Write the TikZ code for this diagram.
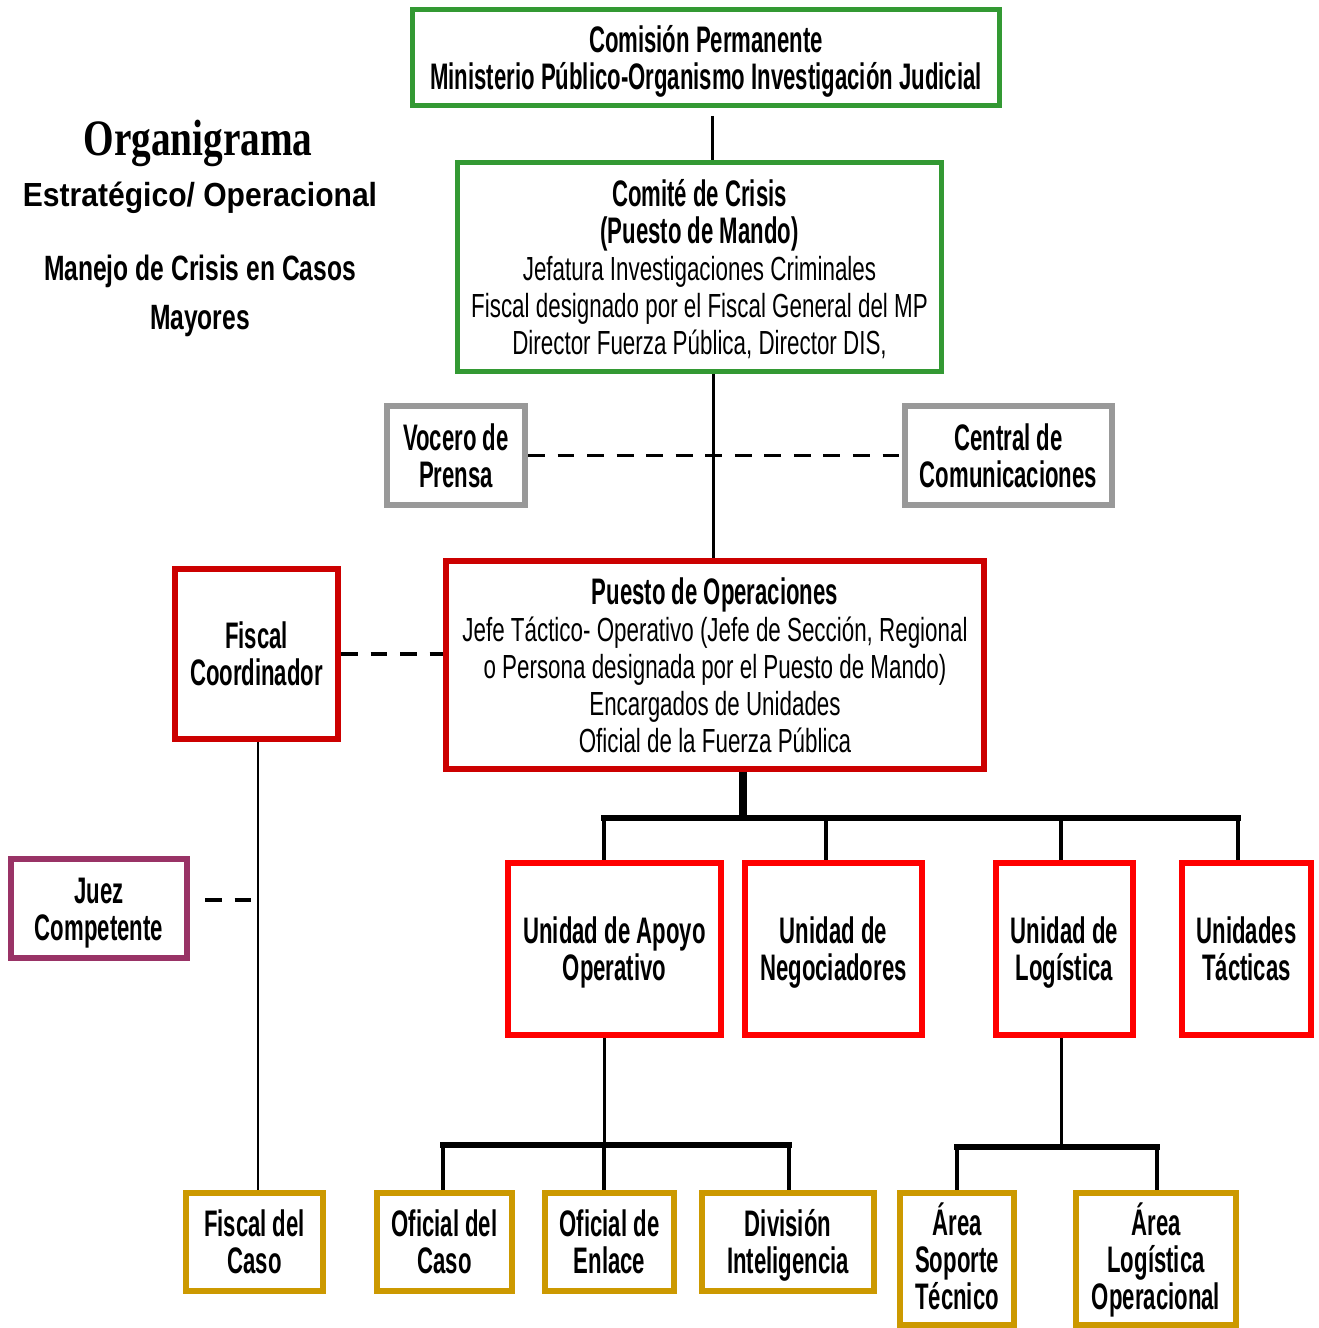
\documentclass[tikz,border=0pt]{standalone}
\usepackage{fontspec}
\setmainfont{Liberation Sans}
\newfontfamily\bfn{Liberation Sans}[FakeStretch=0.6]
\newfontfamily\rgn{Liberation Sans}[FakeStretch=0.67]
\newfontfamily\ttla{Liberation Sans}[FakeStretch=0.9]
\newfontfamily\ttlb{Liberation Sans}[FakeStretch=0.7]
\newfontfamily\ttlserif{Liberation Serif}[FakeStretch=0.77]
\definecolor{cgreen}{HTML}{339933}
\definecolor{cgray}{HTML}{999999}
\definecolor{cdred}{HTML}{CC0000}
\definecolor{cred}{HTML}{FF0000}
\definecolor{cpurp}{HTML}{993366}
\definecolor{cgold}{HTML}{CC9900}
\newcommand{\B}{\bfn\bfseries\fontsize{10.5}{10.5}\selectfont}
\newcommand{\R}{\rgn\mdseries\fontsize{9.5}{10.5}\selectfont}
\newcommand{\Tp}{\rule{0pt}{10pt}}
\newcommand{\Dp}{\rule[-2.5pt]{0pt}{2.5pt}}
\tikzset{
  box/.style={draw, rectangle, inner sep=0pt, align=center, fill=white, font=\B},
  gbox/.style={box, draw=cgreen, line width=1.42pt},
  graybox/.style={box, draw=cgray, line width=1.7pt},
  drbox/.style={box, draw=cdred, line width=1.7pt},
  rbox/.style={box, draw=cred, line width=1.7pt},
  pbox/.style={box, draw=cpurp, line width=1.7pt},
  yobox/.style={box, draw=cgold, line width=1.7pt},
  conn/.style={draw=black, line width=0.85pt},
  trunk/.style={draw=black, line width=2pt},
  busline/.style={draw=black, line width=1.5pt, line cap=rect},
  dropline/.style={draw=black, line width=1.1pt},
  dashline/.style={draw=black, line width=1.1pt, dash pattern=on 4.8pt off 3.6pt},
}
\begin{document}
\begin{tikzpicture}[x=0.01cm, y=-0.01cm]
\useasboundingbox (0,0) rectangle (1318,1328);
% titles
\node[font=\ttlserif\bfseries\fontsize{14.5}{15}\selectfont] (t1) at (198,143) {Organigrama};
\node[font=\ttla\bfseries\fontsize{9.5}{10}\selectfont] (t2) at (200,198) {Estratégico/ Operacional};
\node[font=\ttlb\bfseries\fontsize{10}{13.8}\selectfont, align=center] (t3) at (200,296) {Manejo de Crisis en Casos\\Mayores};
% boxes
\node[gbox, minimum width=5.87cm, minimum height=0.96cm] (com) at (706,57.5)
  {\Tp Comisión Permanente\\Ministerio Público-Organismo Investigación Judicial\Dp};
\node[gbox, minimum width=4.84cm, minimum height=2.09cm] (crisis) at (699.5,267)
  {\Tp Comité de Crisis\\(Puesto de Mando)\\{\R Jefatura Investigaciones Criminales}\\{\R Fiscal designado por el Fiscal General del MP}\\{\R Director Fuerza Pública, Director DIS,}\Dp};
\node[graybox, minimum width=1.38cm, minimum height=0.99cm] (vocero) at (456,455.5) {\Tp Vocero de\\Prensa\Dp};
\node[graybox, minimum width=2.07cm, minimum height=0.99cm] (central) at (1008.5,455.5) {\Tp Central de\\Comunicaciones\Dp};
\node[drbox, minimum width=5.38cm, minimum height=2.08cm] (puesto) at (715,665)
  {\Tp Puesto de Operaciones\\{\R Jefe Táctico- Operativo (Jefe de Sección, Regional}\\{\R o Persona designada por el Puesto de Mando)}\\{\R Encargados de Unidades}\\{\R Oficial de la Fuerza Pública}\Dp};
\node[drbox, minimum width=1.63cm, minimum height=1.70cm] (fiscalc) at (256.5,654) {\Tp Fiscal\\Coordinador\Dp};
\node[pbox, minimum width=1.76cm, minimum height=0.99cm] (juez) at (99,908.5) {\Tp Juez\\Competente\Dp};
\node[rbox, minimum width=2.13cm, minimum height=1.72cm] (apoyo) at (614.5,949) {\Tp Unidad de Apoyo\\Operativo\Dp};
\node[rbox, minimum width=1.77cm, minimum height=1.72cm] (nego) at (833.5,949) {\Tp Unidad de\\Negociadores\Dp};
\node[rbox, minimum width=1.37cm, minimum height=1.72cm] (logi) at (1064.5,949) {\Tp Unidad de\\Logística\Dp};
\node[rbox, minimum width=1.29cm, minimum height=1.72cm] (tact) at (1246.5,949) {\Tp Unidades\\Tácticas\Dp};
\node[yobox, minimum width=1.37cm, minimum height=0.98cm] (fcaso) at (254.5,1242) {\Tp Fiscal del\\Caso\Dp};
\node[yobox, minimum width=1.35cm, minimum height=0.98cm] (ocaso) at (444.5,1242) {\Tp Oficial del\\Caso\Dp};
\node[yobox, minimum width=1.29cm, minimum height=0.98cm] (enlace) at (609.5,1242) {\Tp Oficial de\\Enlace\Dp};
\node[yobox, minimum width=1.72cm, minimum height=0.98cm] (divi) at (788,1242) {\Tp División\\Inteligencia\Dp};
\node[yobox, minimum width=1.14cm, minimum height=1.32cm] (soporte) at (957,1259) {\Tp Área\\Soporte\\Técnico\Dp};
\node[yobox, minimum width=1.60cm, minimum height=1.32cm] (alog) at (1156,1259) {\Tp Área\\Logística\\Operacional\Dp};
% helper coordinates
\coordinate (s1) at (712,116);
\coordinate (s2) at (713,0);
\coordinate (fl) at (258,0);
\coordinate (jd) at (205,900);
\coordinate (b0) at (743,818);
\coordinate (bA) at (604,818);
\coordinate (bN) at (826,818);
\coordinate (bL) at (1061,818);
\coordinate (bT) at (1238,818);
\coordinate (c0) at (604,1145);
\coordinate (cO) at (443,1145);
\coordinate (cD) at (789,1145);
\coordinate (d0) at (1061,1147);
\coordinate (dS) at (957,1147);
\coordinate (dA) at (1157,1147);
% connectors
\draw[conn] (s1) -- (s1 |- crisis.north);
\draw[conn] (crisis.south -| s2) -- (puesto.north -| s2);
\draw[dashline] (vocero.east) -- (central.west);
\draw[dashline] (fiscalc.east) -- (fiscalc.east -| puesto.west);
\draw[conn] (fiscalc.south -| fl) -- (fcaso.north -| fl);
\draw[dashline] (jd) -- (jd -| fl);
\draw[trunk] (b0 |- puesto.south) -- (b0);
\draw[busline] (bA) -- (bT);
\draw[dropline] (bA) -- (bA |- apoyo.north);
\draw[dropline] (bN) -- (bN |- nego.north);
\draw[dropline] (bL) -- (bL |- logi.north);
\draw[dropline] (bT) -- (bT |- tact.north);
\draw[conn] (c0 |- apoyo.south) -- (c0);
\draw[busline] (cO) -- (cD);
\draw[dropline] (cO) -- (cO |- ocaso.north);
\draw[dropline] (c0) -- (c0 |- enlace.north);
\draw[dropline] (cD) -- (cD |- divi.north);
\draw[conn] (d0 |- logi.south) -- (d0);
\draw[busline] (dS) -- (dA);
\draw[dropline] (dS) -- (dS |- soporte.north);
\draw[dropline] (dA) -- (dA |- alog.north);
\end{tikzpicture}
\end{document}
